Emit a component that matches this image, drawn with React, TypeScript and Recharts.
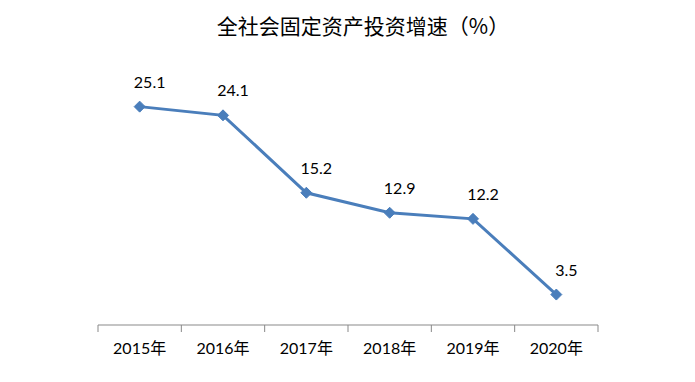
import React from 'react';
import { LineChart, Line, XAxis, YAxis, LabelList } from 'recharts';

const categories = ['2015年', '2016年', '2017年', '2018年', '2019年', '2020年'];
const growth = [25.1, 24.1, 15.2, 12.9, 12.2, 3.5];
const title = '全社会固定资产投资增速（%）';

const data = categories.map((c, i) => ({ year: c, value: growth[i] }));

const W = 695;
const H = 382;
const AXIS_H = 57;
const M = { top: 64, right: 97, bottom: 0, left: 98 };
const BAND = (W - M.left - M.right) / categories.length;
const LINE_COLOR = '#4A7EBB';
const AXIS_COLOR = '#898989';
const FONT = "Lato, 'Noto Sans CJK SC', sans-serif";

const Diamond = (props: any) => {
  const { cx, cy } = props;
  if (cx == null || cy == null) return null;
  const r = 5.5;
  return (
    <polygon
      points={`${cx},${cy - r} ${cx + r},${cy} ${cx},${cy + r} ${cx - r},${cy}`}
      fill={LINE_COLOR}
      stroke={LINE_COLOR}
      strokeWidth={1}
    />
  );
};

const Tick = (props: any) => {
  const { x, payload, index } = props;
  const half = BAND / 2;
  const axisY = H - AXIS_H;
  return (
    <g>
      <line x1={x - half} x2={x - half} y1={axisY} y2={axisY + 7} stroke={AXIS_COLOR} strokeWidth={1} />
      {index === categories.length - 1 && (
        <line x1={x + half} x2={x + half} y1={axisY} y2={axisY + 7} stroke={AXIS_COLOR} strokeWidth={1} />
      )}
      <text x={x} y={axisY + 29} textAnchor="middle" fontSize={16} fill="#000" fontFamily={FONT}>
        {payload.value}
      </text>
    </g>
  );
};

const ValueLabel = (props: any) => {
  const { x, y, value } = props;
  return (
    <text x={x + 10} y={y - 19} textAnchor="middle" fontSize={16} fill="#000" fontFamily={FONT}>
      {value}
    </text>
  );
};

export default function App() {
  return (
    <div style={{ position: 'absolute', left: 0, top: 0, width: W, height: H, background: '#fff' }}>
      <div
        style={{
          position: 'absolute',
          left: 5,
          top: 13,
          width: 716,
          textAlign: 'center',
          fontSize: 21,
          lineHeight: '24px',
          fontFamily: "'Noto Sans CJK SC', sans-serif",
          fontWeight: 400,
          color: '#000',
        }}
      >
        {title}
      </div>
      <LineChart width={W} height={H} data={data} margin={M}>
        <XAxis
          dataKey="year"
          scale="band"
          axisLine={{ stroke: AXIS_COLOR, strokeWidth: 1 }}
          tickLine={false}
          tick={<Tick />}
          interval={0}
          height={AXIS_H}
        />
        <YAxis hide domain={[0, 30]} width={0} />
        <Line
          type="linear"
          dataKey="value"
          stroke={LINE_COLOR}
          strokeWidth={3}
          dot={<Diamond />}
          activeDot={false}
          isAnimationActive={false}
        >
          <LabelList dataKey="value" content={<ValueLabel />} />
        </Line>
      </LineChart>
    </div>
  );
}
